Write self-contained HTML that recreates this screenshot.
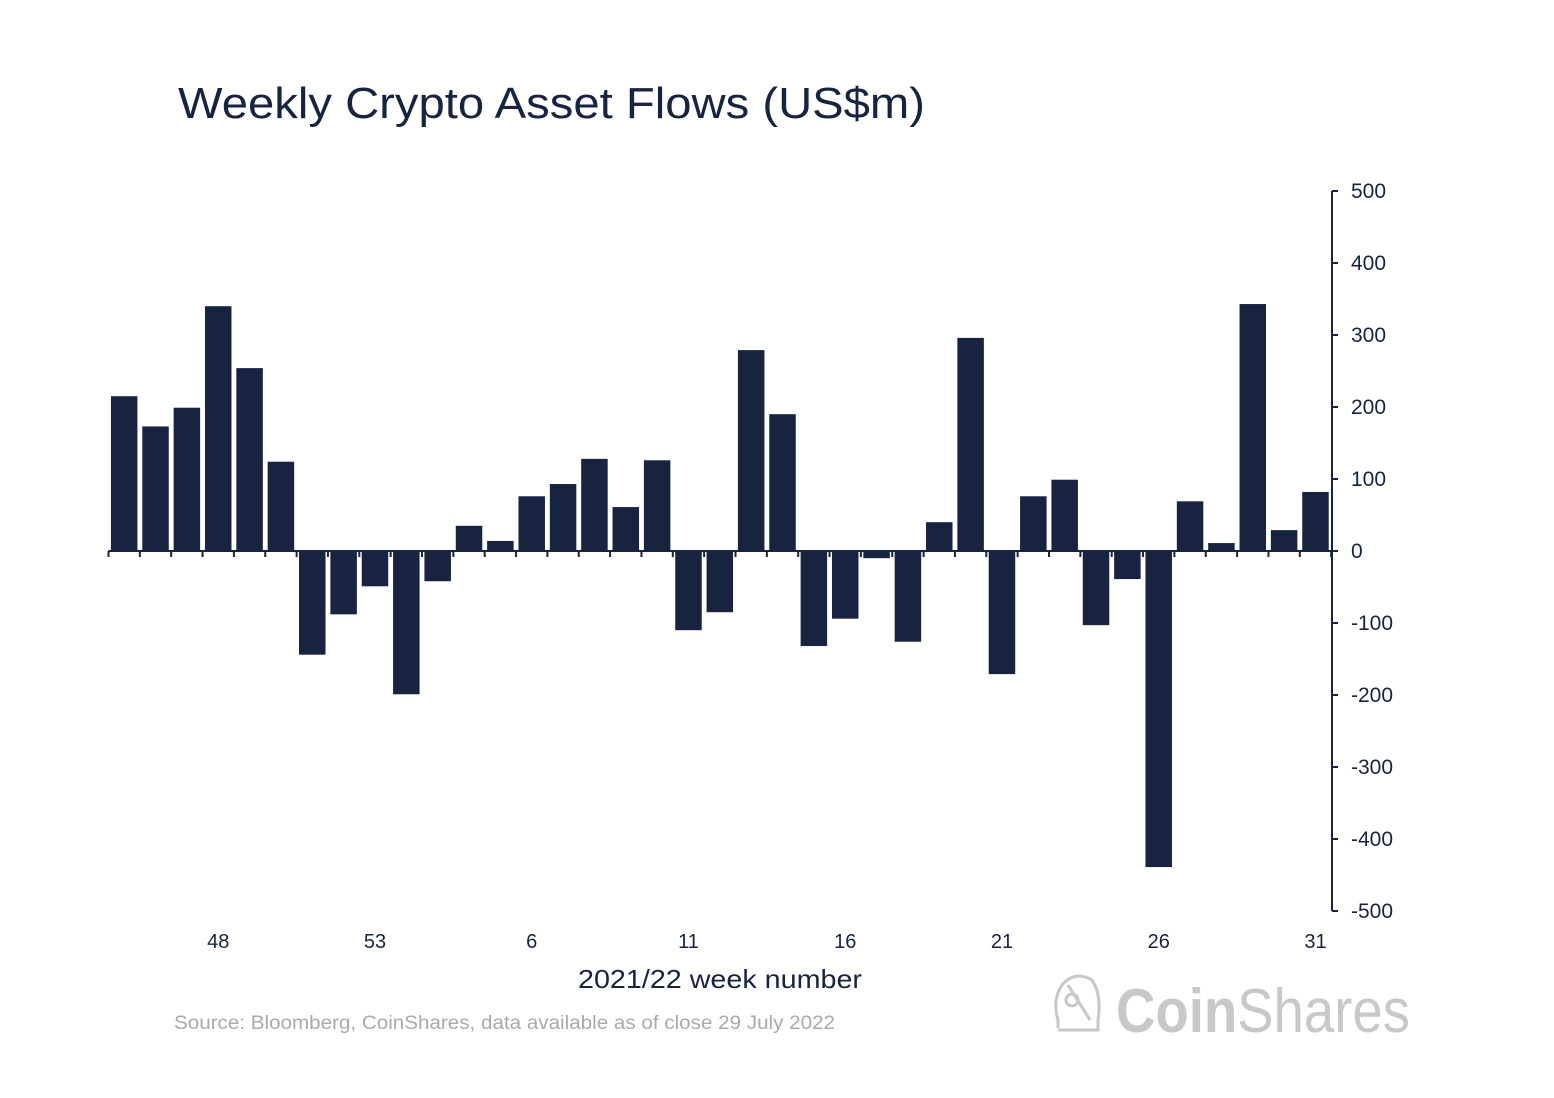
<!DOCTYPE html>
<html><head><meta charset="utf-8">
<style>
body{margin:0;background:#fff;font-family:"Liberation Sans",sans-serif;}
#wrap{position:relative;width:1554px;height:1098px;overflow:hidden;}
</style></head>
<body>
<div id="wrap">
<svg id="svg" width="1554" height="1098">
<text x="178" y="118" font-size="44" fill="#17233f" textLength="747" lengthAdjust="spacingAndGlyphs">Weekly Crypto Asset Flows (US$m)</text>
<g id="bars"></g>
<g id="axes"></g>
<text x="578" y="988" font-size="26" fill="#17233f" textLength="284" lengthAdjust="spacingAndGlyphs">2021/22 week number</text>
<text x="174" y="1029" font-size="19" fill="#aaaaaa" textLength="661" lengthAdjust="spacingAndGlyphs">Source: Bloomberg, CoinShares, data available as of close 29 July 2022</text>
<g stroke="#c8c8c8" fill="none" stroke-width="3">
<path d="M1058 1028 L1058 1020 Q1052 1000 1062 985 Q1075 970 1092 980 Q1102 995 1098 1020 L1098 1030 L1058 1030"/>
<circle cx="1072" cy="1000" r="6"/>
<path d="M1068 985 L1090 1020"/>
</g>
<text x="1116" y="1032" font-size="62" fill="#c8c8c8" textLength="294" lengthAdjust="spacingAndGlyphs"><tspan font-weight="bold">Coin</tspan>Shares</text>
</svg>
</div>
<script>
const weekLabels=["48","53","6","11","16","21","26","31"];
const flows=[215,173,199,340,254,124,-144,-88,-49,-199,-42,35,14,76,93,128,61,126,-110,-85,279,190,-132,-94,-10,-126,40,296,-171,76,99,-103,-39,-439,69,11,343,29,82];
const yTicks=[500,400,300,200,100,0,-100,-200,-300,-400,-500];
const NS="http://www.w3.org/2000/svg";
const x0=108.5, step=31.35, bw=26.5, axisX=1332;
const y=v=>551-v*0.72;
const bx=i=>x0+i*step+(step-bw)/2;
const bars=document.getElementById('bars'), axes=document.getElementById('axes');
function mk(t,a,p){const e=document.createElementNS(NS,t);for(const k in a)e.setAttribute(k,a[k]);p.appendChild(e);return e;}
flows.forEach((v,i)=>{
  const r=mk('rect',{x:bx(i),y:Math.min(y(v),y(0)),width:bw,height:Math.abs(y(v)-y(0)),fill:'#17233f'},bars);
  
  
});
const xl=mk('line',{x1:x0,x2:axisX,y1:y(0),y2:y(0),stroke:'#17233f','stroke-width':2},axes);


for(let i=0;i<=flows.length;i++){mk('line',{x1:x0+i*step,x2:x0+i*step,y1:y(0),y2:y(0)+6,stroke:'#17233f','stroke-width':2},axes);}
weekLabels.forEach((l,k)=>{
  const t=mk('text',{x:bx(3+k*5)+bw/2,y:948,'font-size':20,fill:'#17233f','text-anchor':'middle'},axes);
  t.textContent=l;
  
  
});
const yl=mk('line',{x1:axisX,x2:axisX,y1:y(500),y2:y(-500),stroke:'#17233f','stroke-width':2},axes);


yTicks.forEach(v=>{
  mk('line',{x1:axisX,x2:axisX+6,y1:y(v),y2:y(v),stroke:'#17233f','stroke-width':2},axes);
  const t=mk('text',{x:1351,y:y(v)+7,'font-size':21,fill:'#17233f'},axes);
  t.textContent=v;
  
  
});
</script>
</body></html>
